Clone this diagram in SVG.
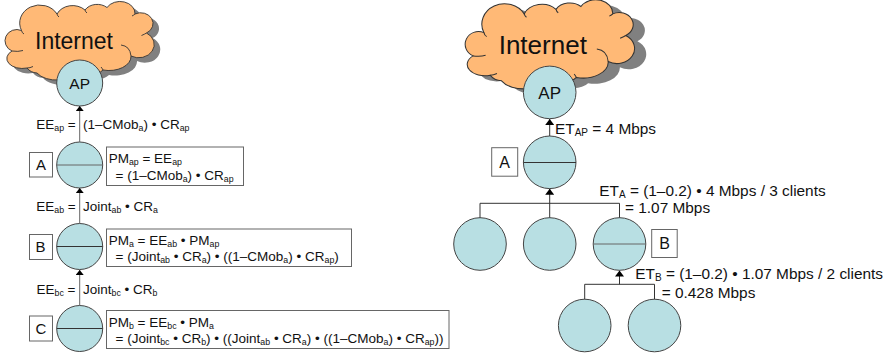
<svg xmlns="http://www.w3.org/2000/svg" width="888" height="359" viewBox="0 0 888 359">
<style>
text{font-family:"Liberation Sans",Arial,sans-serif;fill:#111}
.n{fill:#b8dfe3;stroke:#444;stroke-width:1}
.l{stroke:#333;stroke-width:1;fill:none}
.c{stroke:#666;stroke-width:1;fill:none}
.b{fill:#fff;stroke:#666;stroke-width:1}
.f{font-size:13.500px}
.r{font-size:15.400px}
.s{font-size:8.800px}
.s2{font-size:10px}
.cl{fill:#ffb976;stroke:#333;stroke-width:.9}
.curl{fill:none;stroke:#333;stroke-width:.9}
.sh{fill:#808080}
.lb{font-size:15px;text-anchor:middle}
</style>
<defs>
<marker id="ah" markerUnits="userSpaceOnUse" markerWidth="5" markerHeight="8" refX="5" refY="4" orient="auto" viewBox="0 0 5 8"><path d="M5 4L0 8V0Z" fill="#000"/></marker>
<marker id="ah2" markerUnits="userSpaceOnUse" markerWidth="6" markerHeight="9" refX="6" refY="4.500" orient="auto" viewBox="0 0 6 9"><path d="M6 4.500L0 9V0Z" fill="#000"/></marker>
<path id="cloud" d="M12 51A11 10.500 0 0 1 21.500 30.500A20 18 0 0 1 57 14A17 14 0 0 1 85 10A14 11 0 0 1 107 7.500A15 12 0 0 1 135 14A12 10.500 0 0 1 146.500 33A14 12 0 0 1 131 56A22 14 0 0 1 103 70A15 10 0 0 1 78 70A22 13 0 0 1 37 73A13 11 0 0 1 27 68A15.500 10 0 0 1 12 51Z"/>
<path id="curls" d="M21.500 30.500Q22 33 24 34M57 14Q57.500 16 59 17M85 10Q85.500 12 87 13M135 14Q134 15 132 16M146.500 33Q145 34 141.500 35.500M121 45Q130 46 131 56M12 51Q18 52 23 50.500M27 68Q30 68 33 66.500M103 70Q102 68 101 67"/>
</defs>
<g id="cloud-left">
<use href="#cloud" class="sh" transform="translate(6,5)"/>
<use href="#cloud" class="cl"/>
<use href="#curls" class="curl"/>
<text x="35" y="49" font-size="23">Internet</text>
</g>
<g id="cloud-right">
<use href="#cloud" class="sh" transform="translate(465.500,-2) scale(1.135) translate(5,5)"/>
<use href="#cloud" class="cl" transform="translate(459.500,-2) scale(1.135)"/>
<use href="#curls" class="curl" transform="translate(459.500,-2) scale(1.135)"/>
<text x="498.700" y="54" font-size="26">Internet</text>
</g>
<g id="ap-left"><circle class="n" cx="79.700" cy="83" r="23"/><text x="79.700" y="89" font-size="15.500" text-anchor="middle">AP</text></g>
<g id="node-a-left"><circle class="n" cx="79.700" cy="165" r="23"/><path class="c" d="M56.700 165H102.700"/>
<rect class="b" x="29.500" y="152.500" width="23" height="24.500"/><text class="lb" x="41" y="170">A</text></g>
<g id="node-b-left"><circle class="n" cx="79.700" cy="246.500" r="23"/><path class="l" d="M56.700 246.500H102.700"/>
<rect class="b" x="29.500" y="234.500" width="23" height="25"/><text class="lb" x="40.500" y="252">B</text></g>
<g id="node-c-left"><circle class="n" cx="79.700" cy="328.500" r="23"/><path class="l" d="M56.700 328.500H102.700"/>
<rect class="b" x="29.500" y="316" width="23" height="25"/><text class="lb" x="41" y="334">C</text></g>
<g id="labels-left">
<text class="f" x="36.300" y="128.500">EE<tspan class="s" dy="2">ap</tspan><tspan dy="-2"> =</tspan></text>
<text class="f" x="83" y="128.500">(1–CMob<tspan class="s" dy="2">a</tspan><tspan dy="-2">) • CR</tspan><tspan class="s" dy="2">ap</tspan></text>
<text class="f" x="36.300" y="211">EE<tspan class="s" dy="2">ab</tspan><tspan dy="-2"> =</tspan></text>
<text class="f" x="83" y="211">Joint<tspan class="s" dy="2">ab</tspan><tspan dy="-2"> • CR</tspan><tspan class="s" dy="2">a</tspan></text>
<text class="f" x="36.500" y="294">EE<tspan class="s" dy="2">bc</tspan><tspan dy="-2"> =</tspan></text>
<text class="f" x="83" y="294">Joint<tspan class="s" dy="2">bc</tspan><tspan dy="-2"> • CR</tspan><tspan class="s" dy="2">b</tspan></text>
</g>
<g id="pm-a"><rect class="b" x="106.500" y="147" width="137" height="38.500"/>
<text class="f" x="108.700" y="163">PM<tspan class="s" dy="2">ap</tspan><tspan dy="-2"> = EE</tspan><tspan class="s" dy="2">ap</tspan></text>
<text class="f" x="115.500" y="180">= (1–CMob<tspan class="s" dy="2">a</tspan><tspan dy="-2">) • CR</tspan><tspan class="s" dy="2">ap</tspan></text></g>
<g id="pm-b"><rect class="b" x="106.500" y="229" width="245" height="37.500"/>
<text class="f" x="108.700" y="245">PM<tspan class="s" dy="2">a</tspan><tspan dy="-2"> = EE</tspan><tspan class="s" dy="2">ab</tspan><tspan dy="-2"> • PM</tspan><tspan class="s" dy="2">ap</tspan></text>
<text class="f" x="115.500" y="261">= (Joint<tspan class="s" dy="2">ab</tspan><tspan dy="-2"> • CR</tspan><tspan class="s" dy="2">a</tspan><tspan dy="-2">)  • ((1–CMob</tspan><tspan class="s" dy="2">a</tspan><tspan dy="-2">) • CR</tspan><tspan class="s" dy="2">ap</tspan><tspan dy="-2">)</tspan></text></g>
<g id="pm-c"><rect class="b" x="106.500" y="310.500" width="342.500" height="38"/>
<text class="f" x="108.700" y="327">PM<tspan class="s" dy="2">b</tspan><tspan dy="-2"> = EE</tspan><tspan class="s" dy="2">bc</tspan><tspan dy="-2"> • PM</tspan><tspan class="s" dy="2">a</tspan></text>
<text class="f" x="115.500" y="343">= (Joint<tspan class="s" dy="2">bc</tspan><tspan dy="-2"> • CR</tspan><tspan class="s" dy="2">b</tspan><tspan dy="-2">) • ((Joint</tspan><tspan class="s" dy="2">ab</tspan><tspan dy="-2"> • CR</tspan><tspan class="s" dy="2">a</tspan><tspan dy="-2">) • ((1–CMob</tspan><tspan class="s" dy="2">a</tspan><tspan dy="-2">) • CR</tspan><tspan class="s" dy="2">ap</tspan><tspan dy="-2">))</tspan></text></g>
<g id="ap-right"><circle class="n" cx="549.700" cy="92.400" r="26.300"/><text x="549.700" y="99" font-size="17" text-anchor="middle">AP</text></g>
<g id="node-a-right"><circle class="n" cx="549.700" cy="162.300" r="26.300"/><path class="l" d="M523.400 162.500H576"/>
<rect class="b" x="491.700" y="147.700" width="26" height="28.500"/><text x="504.700" y="168" font-size="16" text-anchor="middle">A</text></g>
<g id="node-r1"><circle class="n" cx="480" cy="244" r="26.300"/></g>
<g id="node-r2"><circle class="n" cx="549.700" cy="244" r="26.300"/></g>
<g id="node-b-right"><circle class="n" cx="619.500" cy="244" r="26.300"/><path class="c" d="M593.200 244H645.800"/>
<rect class="b" x="651.700" y="229.500" width="25.500" height="28"/><text x="664.500" y="249" font-size="16" text-anchor="middle">B</text></g>
<g id="node-r3"><circle class="n" cx="584.700" cy="325.500" r="26.300"/></g>
<g id="node-r4"><circle class="n" cx="654.500" cy="325.500" r="26.300"/></g>
<g id="labels-right">
<text class="r" x="555" y="134">ET<tspan class="s2" dy="2">AP</tspan><tspan dy="-2"> = 4 Mbps</tspan></text>
<text class="r" x="599.300" y="195.700">ET<tspan class="s2" dy="2">A</tspan><tspan dy="-2"> = (1–0.2) • 4 Mbps / 3 clients</tspan></text>
<text class="r" x="625" y="213.300">= 1.07 Mbps</text>
<text class="r" x="635.300" y="278.700">ET<tspan class="s2" dy="2">B</tspan><tspan dy="-2"> = (1–0.2) • 1.07 Mbps / 2 clients</tspan></text>
<text class="r" x="661.700" y="297.700">= 0.428 Mbps</text>
</g>
<g id="connectors">
<path class="c" d="M79.700 142V106" marker-end="url(#ah)"/>
<path class="c" d="M79.700 224V188" marker-end="url(#ah)"/>
<path class="c" d="M79.700 306V270" marker-end="url(#ah)"/>
<path class="l" d="M549.700 136V119" marker-end="url(#ah2)"/>
<path class="l" d="M480 217.700V203.300H619.500V217.700"/>
<path class="l" d="M549.700 217.700V188.700" marker-end="url(#ah2)"/>
<path class="l" d="M584.700 299.300V284.300H654.500V299.300"/>
<path class="l" d="M619.500 284.300V270.500" marker-end="url(#ah2)"/>
</g>
</svg>
